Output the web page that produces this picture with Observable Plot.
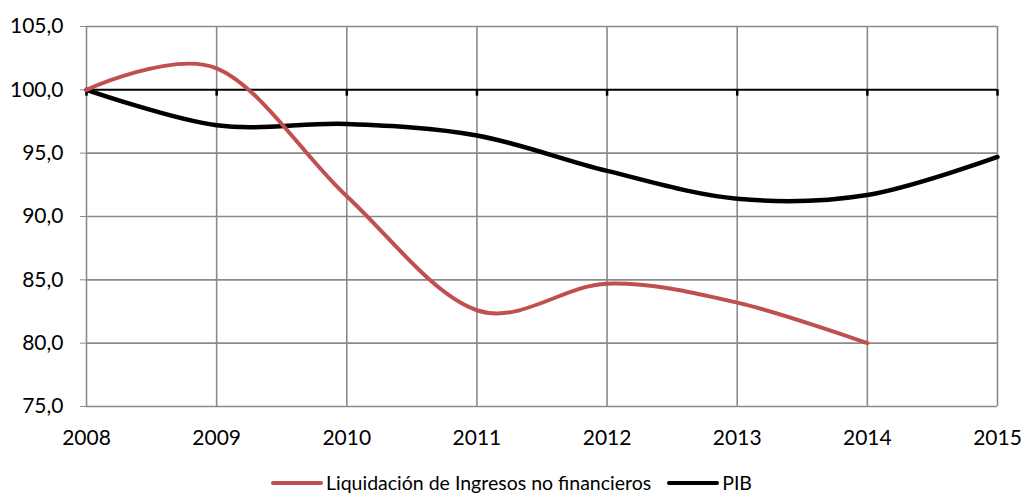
<!DOCTYPE html>
<html><head><meta charset="utf-8">
<script src="https://cdn.jsdelivr.net/npm/d3@7"></script>
<script src="https://cdn.jsdelivr.net/npm/@observablehq/plot@0.6"></script>
<style>
body{margin:0;background:#fff;width:1023px;height:497px;overflow:hidden;font-family:Lato,sans-serif}
#chart svg{display:block}
#legend{display:flex;justify-content:center;align-items:center;height:29px;line-height:22px;font-size:19.5px;color:#000;font-family:Lato,sans-serif}
.item{display:flex;align-items:center}
.sw{display:inline-block;width:52px;height:4px;border-radius:2px;margin-right:3px}
.item + .item{margin-left:16px}
</style></head><body><div id="chart"></div><div id="legend"></div>
<script>
const years = [2008, 2009, 2010, 2011, 2012, 2013, 2014, 2015];
const liquidacionYears = [2008, 2009, 2010, 2011, 2012, 2013, 2014];
const liquidacion = [100.0, 101.7, 91.6, 82.6, 84.7, 83.2, 80.0];
const pib = [100.0, 97.2, 97.3, 96.4, 93.6, 91.4, 91.7, 94.7];
const yTicks = [75, 80, 85, 90, 95, 100, 105];
const gridValues = [75, 80, 85, 90, 95, 105];
const baseValue = 100;
const seriesNames = ["Liquidación de Ingresos no financieros", "PIB"];
const seriesColors = ["#c0504d", "#000000"];

const liqData = liquidacionYears.map((y, i) => ({year: y, value: liquidacion[i]}));
const pibData = years.map((y, i) => ({year: y, value: pib[i]}));
const fmt = d => d.toFixed(1).replace(".", ",");

const chart = Plot.plot({
  width: 1023,
  height: 468,
  marginLeft: 86,
  marginRight: 26,
  marginTop: 26,
  marginBottom: 62,
  style: {fontFamily: "Lato, sans-serif", fontSize: "21px", color: "#000", background: "#fff"},
  x: {domain: [2008, 2015]},
  y: {domain: [75, 105]},
  marks: [
    Plot.ruleY(gridValues, {stroke: "#8a8a8a", strokeWidth: 1.6}),
    Plot.ruleX(years, {stroke: "#8a8a8a", strokeWidth: 1.6}),
    Plot.ruleY([baseValue], {stroke: "#000", strokeWidth: 2}),
    Plot.ruleX(years, {x: d => d, y1: () => baseValue, y2: () => baseValue - 0.5, stroke: "#000", strokeWidth: 2.5}),
    Plot.axisY({ticks: yTicks, tickFormat: fmt, tickSize: 6, tickPadding: 17, stroke: "#8a8a8a", label: null, fontSize: 21}),
    Plot.axisX({ticks: years, tickFormat: d => String(d), tickSize: 0, tickPadding: 24, label: null, fontSize: 21}),
    Plot.line(pibData, {x: "year", y: "value", stroke: seriesColors[1], strokeWidth: 4.5, curve: "cardinal", tension: 0}),
    Plot.line(liqData, {x: "year", y: "value", stroke: seriesColors[0], strokeWidth: 4, curve: "cardinal", tension: 0})
  ]
});
document.getElementById("chart").appendChild(chart);

const legend = document.getElementById("legend");
seriesNames.forEach((n, i) => {
  const it = document.createElement("span");
  it.className = "item";
  const sw = document.createElement("span");
  sw.className = "sw";
  sw.style.background = seriesColors[i];
  it.appendChild(sw);
  it.appendChild(document.createTextNode(n));
  legend.appendChild(it);
});
</script></body></html>
